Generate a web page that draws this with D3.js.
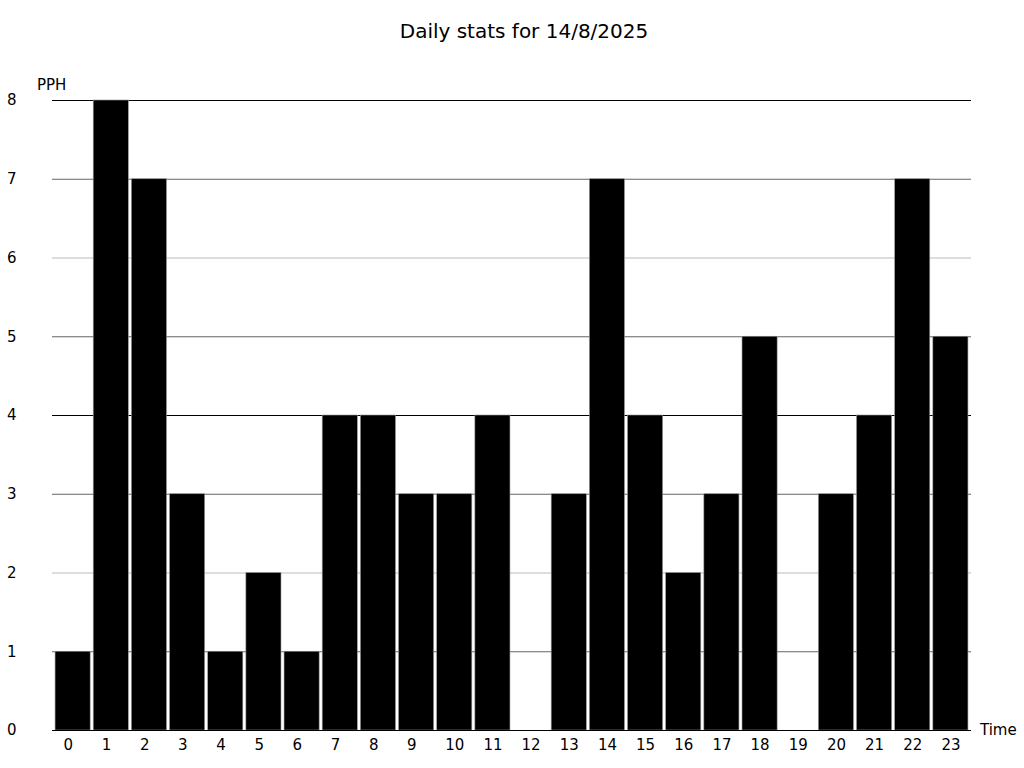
<!DOCTYPE html>
<html><head><meta charset="utf-8">
<script src="https://cdn.jsdelivr.net/npm/d3@7"></script>
<style>body{margin:0;background:#fff}svg{display:block}text{font-family:"DejaVu Sans",sans-serif}</style>
</head><body>
<svg id="c" width="1024" height="768"></svg>
<script>
const hours = ["0","1","2","3","4","5","6","7","8","9","10","11","12","13","14","15","16","17","18","19","20","21","22","23"];
const pph = [1,8,7,3,1,2,1,4,4,3,3,4,0,3,7,4,2,3,5,0,3,4,7,5];
const yTicks = [0,1,2,3,4,5,6,7,8];
const title = "Daily stats for 14/8/2025";

const svg = d3.select("#c");
const L = 52, R = 971, T = 100, B = 730;
const x = d3.scaleBand().domain(hours).range([L, R]).padding(0.08);
const y = d3.scaleLinear().domain([0, 8]).range([B, T]);

function gridColor(v){ if (v===0||v===4||v===8) return "#000"; return v%2===1 ? "#666" : "#bbb"; }

svg.append("g").selectAll("line").data(yTicks.filter(v=>v>0)).join("line")
  .attr("x1", L).attr("x2", R)
  .attr("y1", d=>y(d)+0.5).attr("y2", d=>y(d)+0.5)
  .attr("stroke", gridColor).attr("stroke-width", 1);

svg.append("g").selectAll("rect").data(pph).join("rect")
  .attr("x", (d,i)=>x(hours[i]))
  .attr("y", d=>y(d))
  .attr("width", x.bandwidth())
  .attr("height", d=>B - y(d))
  .attr("fill", "#000")
  .attr("stroke", "#999").attr("stroke-width", 0.6);

svg.append("line").attr("x1", L).attr("x2", R).attr("y1", B+0.5).attr("y2", B+0.5).attr("stroke", "#000");

svg.append("g").selectAll("text").data(yTicks).join("text")
  .attr("x", 7).attr("y", d=>y(d)).attr("dy", "0.35em")
  .attr("font-size", 15).text(d=>d);

svg.append("g").selectAll("text").data(hours).join("text")
  .attr("x", d=>x(d)+x.bandwidth()/2 - 9).attr("y", 745).attr("dy", "0.35em")
  .attr("font-size", 15).text(d=>d);

svg.append("text").attr("x", 37).attr("y", 85).attr("dy","0.35em").attr("font-size", 15).text("PPH");
svg.append("text").attr("x", 980).attr("y", 730).attr("dy","0.35em").attr("font-size", 15).text("Time");
svg.append("text").attr("x", 524).attr("y", 31).attr("dy","0.35em").attr("text-anchor","middle").attr("font-size", 20).text(title);
</script>
</body></html>
